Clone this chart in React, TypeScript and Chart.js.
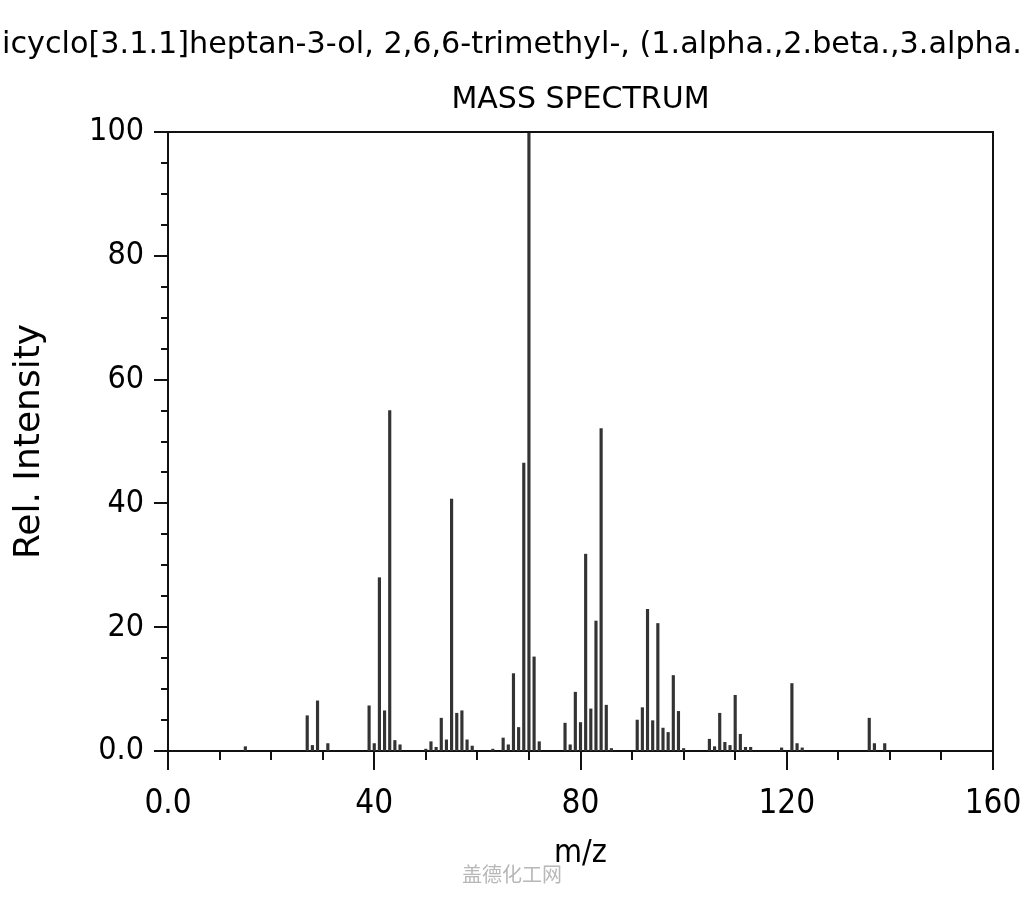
import React, { useEffect, useRef } from 'react';
import { Chart, registerables } from 'chart.js';

Chart.register(...registerables);

const TITLE = 'Bicyclo[3.1.1]heptan-3-ol, 2,6,6-trimethyl-, (1.alpha.,2.beta.,3.alpha.,5.alpha.)-';
const SUBTITLE = 'MASS SPECTRUM';
const X_LABEL = 'm/z';
const Y_LABEL = 'Rel. Intensity';
const WATERMARK = '盖德化工网';

const MZ = [
  15, 27, 28, 29, 31, 39, 40, 41, 42, 43, 44, 45, 50, 51, 52, 53, 54, 55, 56, 57, 58, 59,
  63, 65, 66, 67, 68, 69, 70, 71, 72, 77, 78, 79, 80, 81, 82, 83, 84, 85, 86, 91, 92, 93,
  94, 95, 96, 97, 98, 99, 100, 105, 106, 107, 108, 109, 110, 111, 112, 113, 119, 121, 122,
  123, 136, 137, 139,
];
const INTENSITY = [
  0.7, 5.7, 0.9, 8.1, 1.2, 7.3, 1.2, 28.0, 6.5, 55.0, 1.7, 1.0, 0.3, 1.5, 0.6, 5.3, 1.8, 40.7,
  6.1, 6.5, 1.8, 0.8, 0.3, 2.1, 1.0, 12.5, 3.8, 46.5, 100, 15.2, 1.5, 4.5, 1.0, 9.5, 4.6, 31.8,
  6.8, 21.0, 52.1, 7.4, 0.4, 5.0, 7.0, 22.9, 4.9, 20.6, 3.7, 3.0, 12.2, 6.4, 0.4, 1.9, 0.7,
  6.1, 1.4, 0.9, 9.0, 2.7, 0.6, 0.6, 0.5, 10.9, 1.2, 0.5, 5.3, 1.2, 1.2,
];

const X_LABELED_TICKS = [0, 40, 80, 120, 160];
const Y_LABELED_TICKS = [0, 20, 40, 60, 80, 100];

const CONDENSED = "'DejaVu Sans Condensed', 'DejaVu Sans', sans-serif";
const NORMAL = "'DejaVu Sans', sans-serif";
const INK = '#111111';

// The main title is wider than the page; it is drawn so that it runs off both edges,
// as in the reference ("B" cut on the left, ",5.alpha.)-" cut on the right).
const TITLE_VISIBLE_PART = 'icyclo[3.1.1]heptan-3-ol, 2,6,6-trimethyl-, (1.alpha.,2.beta.,3.alpha.';

const frameAndTicks = {
  id: 'frameAndTicks',
  afterDraw(chart: any) {
    const { ctx, chartArea, scales, width } = chart;
    const { left, right, top, bottom } = chartArea;
    const xs = scales.x;
    const ys = scales.y;
    ctx.save();
    // main title
    ctx.font = `36px ${NORMAL}`;
    const size = (36 * (width - 4)) / ctx.measureText(TITLE_VISIBLE_PART).width;
    ctx.font = `${size}px ${NORMAL}`;
    const lead = ctx.measureText(TITLE.slice(0, 1)).width;
    ctx.fillStyle = '#000';
    ctx.textAlign = 'left';
    ctx.textBaseline = 'middle';
    ctx.fillText(TITLE, 2 - lead, 45);

    // frame and tick marks
    ctx.strokeStyle = INK;
    ctx.lineWidth = 2;
    ctx.beginPath();
    ctx.moveTo(left, top);
    ctx.lineTo(right, top);
    ctx.lineTo(right, bottom);
    ctx.stroke();
    ctx.beginPath();
    xs.ticks.forEach((t: any) => {
      const px = Math.round(xs.getPixelForValue(t.value));
      const major = X_LABELED_TICKS.includes(t.value);
      ctx.moveTo(px, bottom);
      ctx.lineTo(px, bottom + (major ? 19 : 9));
    });
    ys.ticks.forEach((t: any) => {
      const py = Math.round(ys.getPixelForValue(t.value));
      const major = Y_LABELED_TICKS.includes(t.value);
      ctx.moveTo(left, py);
      ctx.lineTo(left - (major ? 14 : 7), py);
    });
    ctx.stroke();
    ctx.restore();
  },
};

export default function App() {
  const ref = useRef<HTMLCanvasElement | null>(null);

  useEffect(() => {
    if (!ref.current) return;
    const chart = new Chart(ref.current, {
      type: 'bar',
      data: {
        datasets: [
          {
            data: MZ.map((m, i) => ({ x: m, y: INTENSITY[i] })),
            backgroundColor: '#333333',
            borderWidth: 0,
            barThickness: 2.5,
          },
        ],
      },
      options: {
        responsive: false,
        animation: false,
        layout: { padding: { left: 0, right: 31, top: 60, bottom: 0 } },
        plugins: {
          legend: { display: false },
          tooltip: { enabled: false },
          title: { display: false },
          subtitle: {
            display: true,
            text: SUBTITLE,
            fullSize: false,
            color: '#000',
            font: { family: NORMAL, size: 30, weight: 'normal', lineHeight: 1.2 },
            padding: { top: 22, bottom: 14 },
          },
        },
        scales: {
          x: {
            type: 'linear',
            min: 0,
            max: 160,
            offset: false,
            grid: { display: false, drawTicks: false },
            border: { display: true, color: INK, width: 2 },
            ticks: {
              stepSize: 10,
              autoSkip: false,
              maxRotation: 0,
              padding: 34,
              color: '#000',
              font: { family: CONDENSED, size: 33 },
              callback: (v: any) => (X_LABELED_TICKS.includes(v) ? (v === 0 ? '0.0' : String(v)) : ''),
            },
            title: {
              display: true,
              text: X_LABEL,
              color: '#000',
              font: { family: CONDENSED, size: 32 },
              padding: { top: 0, bottom: 27 },
            },
            afterFit: (s: any) => {
              s.height = 149;
              s.paddingLeft = 0;
              s.paddingRight = 0;
            },
          },
          y: {
            type: 'linear',
            min: 0,
            max: 100,
            grid: { display: false, drawTicks: false },
            border: { display: true, color: INK, width: 2 },
            ticks: {
              stepSize: 5,
              autoSkip: false,
              padding: 24,
              color: '#000',
              font: { family: CONDENSED, size: 32 },
              callback: (v: any) => (Y_LABELED_TICKS.includes(v) ? (v === 0 ? '0.0' : String(v)) : ''),
            },
            title: {
              display: true,
              text: Y_LABEL,
              color: '#000',
              font: { family: NORMAL, size: 36 },
              padding: { top: 8, bottom: 0 },
            },
            afterFit: (s: any) => {
              s.width = 168;
              s.paddingTop = 0;
              s.paddingBottom = 0;
            },
          },
        },
      },
      plugins: [frameAndTicks],
    } as any);
    return () => chart.destroy();
  }, []);

  return (
    <div style={{ position: 'fixed', left: 0, top: 0, width: 1024, height: 900, background: '#fff', overflow: 'hidden' }}>
      <canvas ref={ref} width={1024} height={900} style={{ display: 'block' }} />
      <div
        style={{
          position: 'absolute',
          left: 0,
          width: 1024,
          top: 862,
          textAlign: 'center',
          color: '#b8b8b8',
          fontFamily: "'Noto Sans CJK SC', sans-serif",
          fontSize: 20,
          lineHeight: '24px',
        }}
      >
        {WATERMARK}
      </div>
    </div>
  );
}
